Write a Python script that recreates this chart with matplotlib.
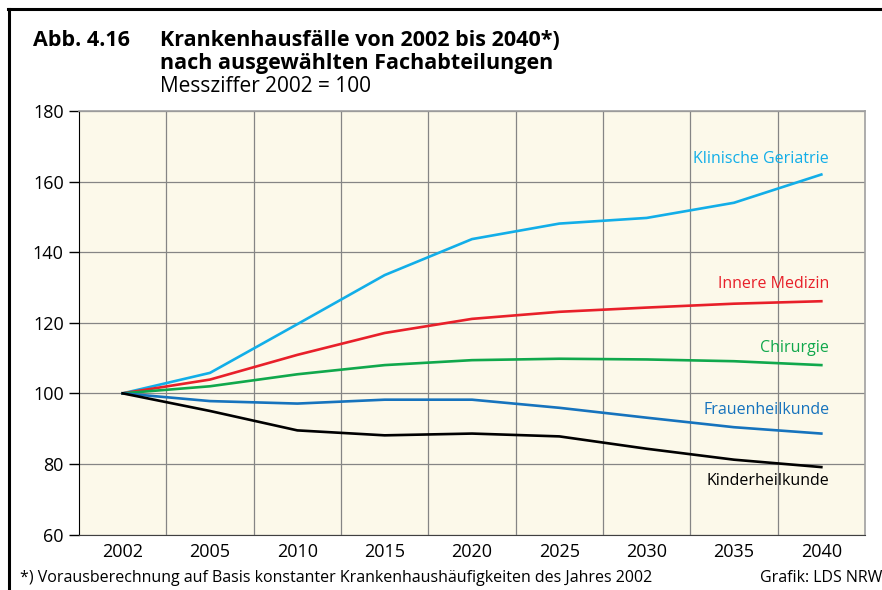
import matplotlib
matplotlib.use("Agg")
import matplotlib.pyplot as plt
from matplotlib.lines import Line2D

plt.rcParams['font.family'] = ['Open Sans', 'DejaVu Sans']

years = ['2002', '2005', '2010', '2015', '2020', '2025', '2030', '2035', '2040']

geriatrie = [100, 105.8, 119.6, 133.5, 143.7, 148.1, 149.7, 154.0, 162.0]
innere = [100, 103.9, 110.9, 117.1, 121.1, 123.1, 124.3, 125.4, 126.1]
chirurgie = [100, 102.0, 105.4, 108.0, 109.4, 109.8, 109.6, 109.1, 108.0]
frauen = [100, 97.8, 97.1, 98.2, 98.2, 95.9, 93.1, 90.4, 88.6]
kinder = [100, 95.0, 89.5, 88.1, 88.6, 87.8, 84.3, 81.2, 79.1]

series = [
    ('Klinische Geriatrie', geriatrie, '#12aee8', 166.4),
    ('Innere Medizin', innere, '#e8202a', 130.9),
    ('Chirurgie', chirurgie, '#10a84c', 112.8),
    ('Frauenheilkunde', frauen, '#1673bd', 95.2),
    ('Kinderheilkunde', kinder, '#000000', 75.3),
]

fig = plt.figure(figsize=(8.82, 5.90), dpi=100)
ax = fig.add_axes([79 / 882, 1 - 534.5 / 590, (865 - 79) / 882, (534.5 - 111) / 590])
ax.set_facecolor('#fcf9ea')

x = list(range(len(years)))
for name, vals, col, ylab in series:
    ax.plot(x, vals, color=col, lw=1.9, solid_joinstyle='round', zorder=3)
    ax.text(8.09, ylab, name, color=col, fontsize=11.5, ha='right', va='center')

ax.set_xlim(-0.5, 8.5)
ax.set_ylim(60, 180)
ax.set_yticks(range(60, 181, 20))
ax.set_xticks(x)
ax.set_xticklabels(years)
ax.set_xticks([i + 0.5 for i in range(8)], minor=True)
ax.tick_params(axis='x', which='both', length=0, labelsize=13, pad=6)
ax.tick_params(axis='y', length=7, width=1, labelsize=13, pad=4)
ax.grid(axis='y', which='major', color='#858585', lw=0.9)
ax.grid(axis='x', which='minor', color='#858585', lw=0.9)
ax.set_axisbelow(True)
for side in ['top', 'right']:
    ax.spines[side].set_color('#a0a0a0')
    ax.spines[side].set_linewidth(1.2)
ax.spines['left'].set_color('black')
ax.spines['bottom'].set_color('#404040')

# Titel
fig.text(33 / 882, 1 - 40 / 590, 'Abb. 4.16', fontsize=15.5, fontweight='bold', va='center')
fig.text(160 / 882, 1 - 40 / 590, 'Krankenhausfälle von 2002 bis 2040*)', fontsize=15.5,
         fontweight='bold', va='center')
fig.text(160 / 882, 1 - 63 / 590, 'nach ausgewählten Fachabteilungen', fontsize=15.5,
         fontweight='bold', va='center')
fig.text(160 / 882, 1 - 87 / 590, 'Messziffer 2002 = 100', fontsize=15, va='center')

fig.text(20 / 882, 1 - 578 / 590,
         '*) Vorausberechnung auf Basis konstanter Krankenhaushäufigkeiten des Jahres 2002',
         fontsize=11.5, va='center')
fig.text(882 / 882, 1 - 578 / 590, 'Grafik: LDS NRW', fontsize=11.5, va='center', ha='right')

# Rahmen
fig.add_artist(Line2D([8 / 882, 1], [1 - 9 / 590, 1 - 9 / 590], color='black', lw=2.2))
fig.add_artist(Line2D([9 / 882, 9 / 882], [0, 1 - 9 / 590], color='black', lw=2.2))

fig.savefig('out.png', dpi=100)
